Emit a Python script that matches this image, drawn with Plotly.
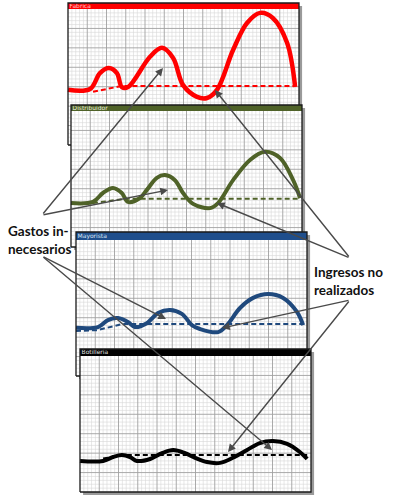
import plotly.graph_objects as go

# ---------------- data (weeks 0-60, units 0-35) ----------------
panel_names = ["Fabrica", "Distribuidor", "Mayorista", "Botilleria"]

fabrica_weeks = [0, 5.7, 8.3, 10.6, 12.7, 14.0, 15.6, 21.3, 24.4, 27.3, 29.9, 33.5, 36.1, 38.7, 42.9, 46.5, 49.9, 53.2, 56.9, 59.0]
fabrica_orders = [14.2, 14.4, 18.5, 19.8, 18.5, 14.9, 14.9, 22.7, 25.0, 22.4, 15.4, 12.4, 12.1, 14.2, 24.5, 31.4, 34.0, 32.7, 26.3, 14.9]
fabrica_plan_weeks = [6.5, 14.0, 59.0]
fabrica_plan = [13.7, 15.2, 15.2]

distrib_weeks = [0, 5.7, 8.3, 10.9, 13.2, 14.8, 17.9, 19.7, 22.3, 24.4, 27.0, 29.1, 31.7, 36.1, 38.2, 42.1, 46.5, 50.4, 54.3, 57.7, 59.5]
distrib_orders = [11.3, 11.6, 13.9, 15.2, 13.9, 11.6, 12.6, 14.7, 17.8, 18.5, 17.2, 13.9, 11.1, 10.0, 11.3, 17.2, 22.4, 24.5, 22.9, 17.2, 12.6]
distrib_plan_weeks = [5.7, 14.0, 59.5]
distrib_plan = [11.3, 12.4, 12.4]

mayor_weeks = [0, 5.7, 8.3, 10.9, 13.5, 15.3, 18.4, 21.3, 24.4, 27.5, 30.1, 32.2, 36.9, 39.2, 42.6, 46.0, 49.9, 53.8, 57.4, 59.0]
mayor_orders = [12.4, 12.6, 14.4, 14.9, 13.9, 12.6, 13.6, 16.2, 17.0, 16.0, 13.1, 12.1, 11.3, 13.1, 17.5, 20.1, 21.1, 20.1, 16.5, 13.1]
mayor_plan_weeks = [0, 5.5, 12.2, 59.0]
mayor_plan = [11.6, 11.8, 13.4, 13.4]

botil_weeks = [0, 6.0, 8.6, 10.9, 13.0, 14.8, 18.2, 21.3, 24.2, 27.3, 29.9, 33.0, 36.4, 39.7, 43.4, 46.7, 50.1, 53.8, 57.1, 59.0]
botil_orders = [8.0, 8.0, 9.0, 9.5, 9.0, 8.0, 8.5, 10.0, 10.8, 10.0, 8.8, 7.7, 7.5, 8.8, 10.8, 12.6, 13.1, 12.4, 10.3, 8.5]
botil_plan_weeks = [6.0, 11.0, 59.0]
botil_plan = [8.6, 9.5, 9.5]

label_gastos = "Gastos in-<br>necesarios"
label_ingresos = "Ingresos no<br>realizados"

# ---------------- layout helpers ----------------
W, H = 393, 500
XN, YN = 60, 35
KX = 231 / XN
KY = 136 / YN
XMIN, XMAX = -0.4, 61.2

panels = [
    dict(name=panel_names[0], line="#ff0000", bar="#ff0000", txt="#ffd0d0", left=68, top=9, tb=6,
         wx=fabrica_weeks, wy=fabrica_orders, px=fabrica_plan_weeks, py=fabrica_plan, lw=4.5),
    dict(name=panel_names[1], line="#4f6228", bar="#4f6228", txt="#e8eedc", left=71, top=111, tb=6,
         wx=distrib_weeks, wy=distrib_orders, px=distrib_plan_weeks, py=distrib_plan, lw=4),
    dict(name=panel_names[2], line="#1f497d", bar="#1f4e8c", txt="#dde6f3", left=76, top=240, tb=8,
         wx=mayor_weeks, wy=mayor_orders, px=mayor_plan_weeks, py=mayor_plan, lw=4),
    dict(name=panel_names[3], line="#000000", bar="#000000", txt="#e0e0e0", left=80, top=356, tb=7,
         wx=botil_weeks, wy=botil_orders, px=botil_plan_weeks, py=botil_plan, lw=4),
]

fig = go.Figure()
layout_axes = {}

for i, p in enumerate(panels):
    sfx = "" if i == 0 else str(i + 1)
    xa, ya = "x" + sfx, "y" + sfx
    tbu = p["tb"] / KY
    top_u = YN + tbu
    ymin, ymax = -1.0, top_u + 0.4
    bottom_px = p["top"] + 136
    x0 = (p["left"] + XMIN * KX) / W
    x1 = (p["left"] + XMAX * KX) / W
    y0 = 1 - (bottom_px - ymin * KY) / H
    y1 = 1 - (bottom_px - ymax * KY) / H
    layout_axes["xaxis" + sfx] = dict(domain=[x0, x1], range=[XMIN, XMAX], visible=False,
                                      fixedrange=True, anchor=ya)
    layout_axes["yaxis" + sfx] = dict(domain=[y0, y1], range=[ymin, ymax], visible=False,
                                      fixedrange=True, anchor=xa)
    common = dict(xaxis=xa, yaxis=ya, hoverinfo="skip", showlegend=False)
    # shadow
    fig.add_trace(go.Scatter(x=[0.8, XN + 0.8, XN + 0.8, 0.8, 0.8],
                             y=[-0.8, -0.8, top_u - 0.8, top_u - 0.8, -0.8],
                             fill="toself", fillcolor="#9a9a9a", mode="lines",
                             line=dict(width=0, color="#9a9a9a"), **common))
    # white panel
    fig.add_trace(go.Scatter(x=[0, XN, XN, 0, 0], y=[0, 0, top_u, top_u, 0],
                             fill="toself", fillcolor="white", mode="lines",
                             line=dict(width=0, color="white"), **common))
    # grid
    for major in (False, True):
        gx, gy = [], []
        for k in range(1, XN):
            if (k % 5 == 0) == major:
                gx += [k, k, None]
                gy += [0, YN, None]
        for k in range(1, YN):
            if (k % 5 == 0) == major:
                gx += [0, XN, None]
                gy += [k, k, None]
        fig.add_trace(go.Scatter(x=gx, y=gy, mode="lines",
                                 line=dict(width=0.9 if major else 0.6,
                                           color="#a0a0a0" if major else "#d6d6d6"),
                                 **common))
    # title bar
    fig.add_trace(go.Scatter(x=[0, XN, XN, 0, 0], y=[YN, YN, top_u, top_u, YN],
                             fill="toself", fillcolor=p["bar"], mode="lines",
                             line=dict(width=0, color=p["bar"]), **common))
    fig.add_trace(go.Scatter(x=[0.4], y=[YN + tbu / 2], mode="text", text=[p["name"]],
                             textposition="middle right",
                             textfont=dict(size=6, color=p["txt"], family="DejaVu Sans"),
                             **common))
    # plan (dashed)
    fig.add_trace(go.Scatter(x=p["px"], y=p["py"], mode="lines",
                             line=dict(width=2, color=p["line"], dash="5px,3px"), **common))
    # orders (solid)
    fig.add_trace(go.Scatter(x=p["wx"], y=p["wy"], mode="lines",
                             line=dict(width=p["lw"], color=p["line"], shape="spline",
                                       smoothing=1.0), **common))
    # frame
    fig.add_trace(go.Scatter(x=[0, XN, XN, 0, 0], y=[0, 0, top_u, top_u, 0], mode="lines",
                             line=dict(width=1.3, color="#1a1a1a"), **common))

# ---------------- arrows ----------------
arrows = [
    # (tail px, head px)
    ((42, 215), (163, 68)),
    ((42, 215), (168, 190)),
    ((42, 256), (166, 319)),
    ((42, 256), (272, 450)),
    ((350, 258), (215, 90)),
    ((350, 258), (217, 203)),
    ((350, 300), (222, 328)),
    ((350, 300), (228, 452)),
]
annotations = []
for (tx, ty), (hx, hy) in arrows:
    annotations.append(dict(x=hx / W, y=1 - hy / H, xref="paper", yref="paper",
                            ax=tx - hx, ay=ty - hy, axref="pixel", ayref="pixel",
                            text="", showarrow=True, arrowhead=2, arrowsize=1.1,
                            arrowwidth=1.4, arrowcolor="#4a4a4a", standoff=0))

label_font = dict(family="Lato", size=13.5, color="#111111")
annotations.append(dict(x=39 / W, y=1 - 240 / H, xref="paper", yref="paper",
                        text="<b>" + label_gastos + "</b>", showarrow=False,
                        font=label_font, xanchor="center", yanchor="middle", align="left"))
annotations.append(dict(x=348 / W, y=1 - 281 / H, xref="paper", yref="paper",
                        text="<b>" + label_ingresos + "</b>", showarrow=False,
                        font=label_font, xanchor="center", yanchor="middle", align="left"))

fig.update_layout(width=W, height=H, margin=dict(l=0, r=0, t=0, b=0),
                  paper_bgcolor="white", plot_bgcolor="rgba(0,0,0,0)",
                  showlegend=False, annotations=annotations, **layout_axes)

fig.write_html("out.html", config={"displayModeBar": False, "staticPlot": True},
               post_script="document.body.style.margin='0';")
